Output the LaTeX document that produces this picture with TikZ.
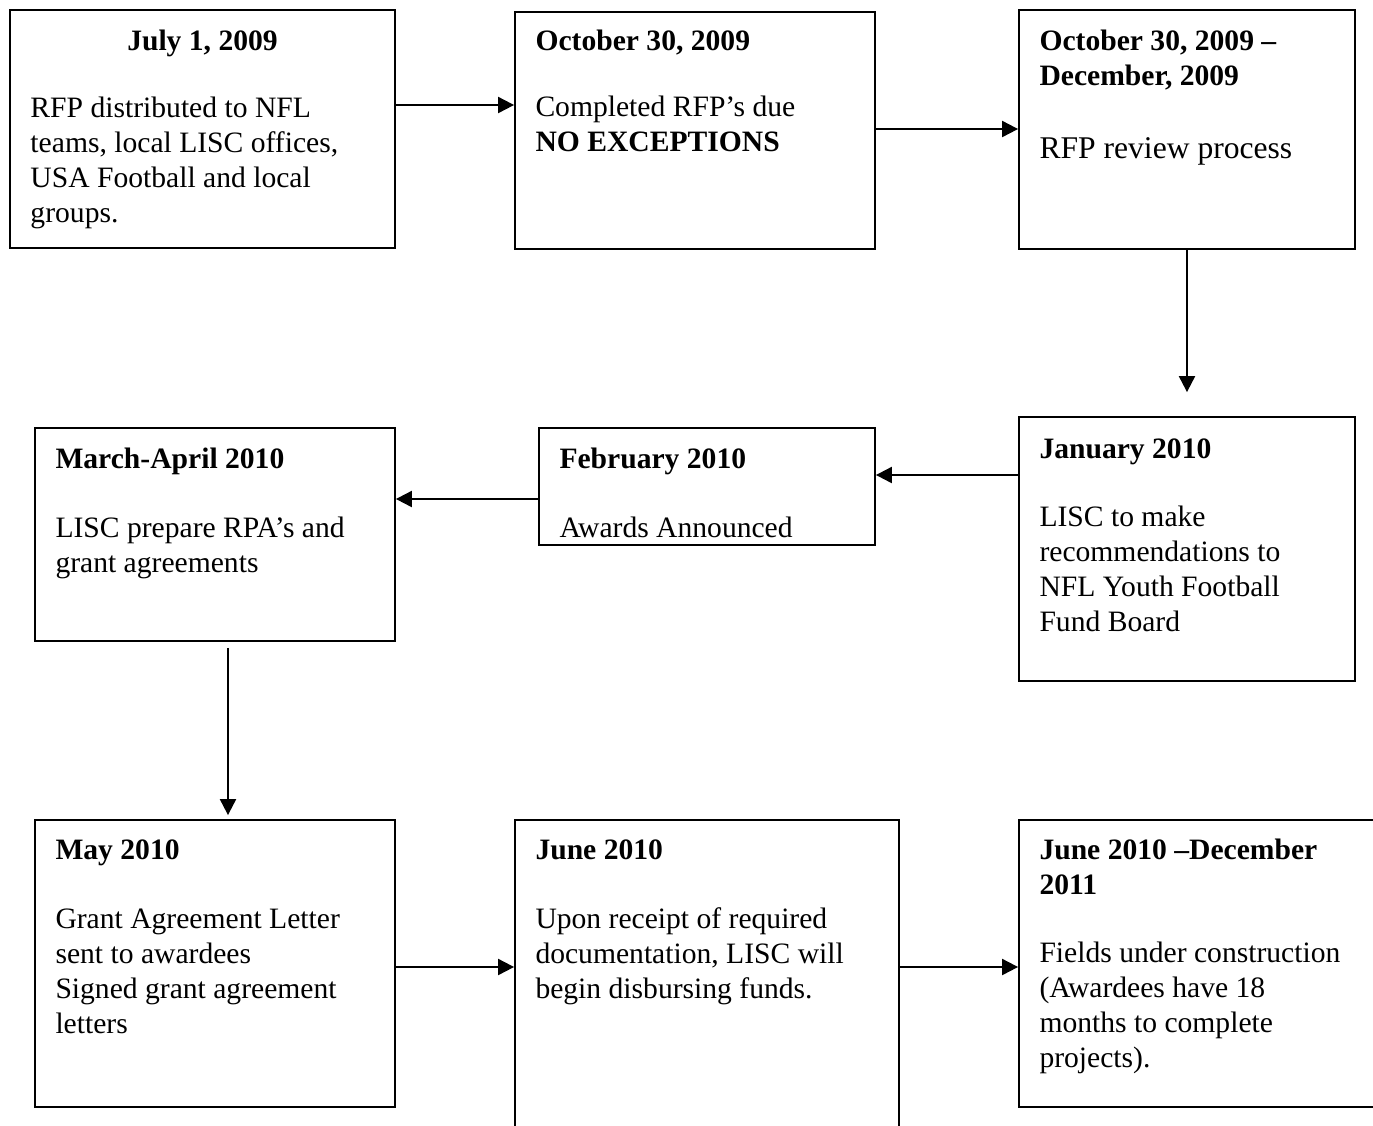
\documentclass[tikz,border=0pt]{standalone}
\usepackage{fontspec}
\setmainfont{Liberation Serif}
\usetikzlibrary{arrows.meta}
\usetikzlibrary{positioning}
\usetikzlibrary{fit}
\tikzset{box/.style = {draw, line width=0.9pt, inner sep=0}}
\tikzset{txt/.style = {inner sep=0, align=left, font=\fontsize{14.8}{17.5}\selectfont}}
\tikzset{arr/.style = {line width=1pt, -{Triangle[length=8pt,width=8pt]}}}
\begin{document}
\begin{tikzpicture}[x=0.5pt,y=-0.5pt]
        \useasboundingbox (0,0) rectangle (1373,1126);
        \clip (0,0) rectangle (1373,1126);
        \node [box, fit={(10,10) (395,248)}] (jul) {};
        \node [box, fit={(515,12) (875,249)}] (oct) {};
        \node [box, fit={(1019,10) (1355,249)}] (rev) {};
        \node [box, fit={(1019,417) (1355,681)}] (jan) {};
        \node [box, fit={(539,428) (875,545)}] (feb) {};
        \node [box, fit={(35,428) (395,641)}] (mar) {};
        \node [box, fit={(35,820) (395,1107)}] (may) {};
        \node [box, fit={(515,820) (899,1140)}] (jun) {};
        \node [box, fit={(1019,820) (1390,1107)}] (fld) {};
        \node [txt, below=8.25pt of jul.north] (julT) {\strut\textbf{July 1, 2009}};
        \node [txt, below right=41.75pt and 10.5pt of jul.north west] (julB) {\strut RFP distributed to NFL\\teams, local LISC offices,\\USA Football and local\\groups.};
        \node [txt, below right=7pt and 10.5pt of oct.north west] (octT) {\strut\textbf{October 30, 2009}\\[15.5pt]Completed RFP’s due\\\textbf{NO EXCEPTIONS}};
        \node [txt, below right=8pt and 10.5pt of rev.north west] (revT) {\strut\textbf{October 30, 2009 –}\\\textbf{December, 2009}};
        \node [txt, below right=61.2pt and 10.5pt of rev.north west, font=\fontsize{15.8}{19}\selectfont] (revB) {\strut RFP review process};
        \node [txt, below right=8.75pt and 10.5pt of jan.north west] (janT) {\strut\textbf{January 2010}\\[16.5pt]LISC to make\\recommendations to\\NFL Youth Football\\Fund Board};
        \node [txt, below right=8.25pt and 10.5pt of feb.north west] (febT) {\strut\textbf{February 2010}\\[17pt]Awards Announced};
        \node [txt, below right=8.25pt and 10.5pt of mar.north west] (marT) {\strut\textbf{March-April 2010}\\[17pt]LISC prepare RPA’s and\\grant agreements};
        \node [txt, below right=7.75pt and 10.5pt of may.north west] (mayT) {\strut\textbf{May 2010}\\[17pt]Grant Agreement Letter\\sent to awardees\\Signed grant agreement\\letters};
        \node [txt, below right=7.75pt and 10.5pt of jun.north west] (junT) {\strut\textbf{June 2010}\\[17pt]Upon receipt of required\\documentation, LISC will\\begin disbursing funds.};
        \node [txt, below right=7.75pt and 10.5pt of fld.north west] (fldT) {\strut\textbf{June 2010 –December}\\\textbf{2011}\\[16.5pt]Fields under construction\\(Awardees have 18\\months to complete\\projects).};
        \draw [arr] (jul.east |- 0,105) -- (oct.west |- 0,105);
        \draw [arr] (oct.east |- 0,129) -- (rev.west |- 0,129);
        \draw [arr, shorten >=12pt] (rev.south) -- (jan.north);
        \draw [arr] (jan.west |- 0,475) -- (feb.east |- 0,475);
        \draw [arr] (feb.west |- 0,499) -- (mar.east |- 0,499);
        \draw [arr, shorten <=3pt, shorten >=2pt] (mar.south -| 228,0) -- (may.north -| 228,0);
        \draw [arr] (may.east |- 0,967) -- (jun.west |- 0,967);
        \draw [arr] (jun.east |- 0,967) -- (fld.west |- 0,967);
    \end{tikzpicture}
\end{document}
